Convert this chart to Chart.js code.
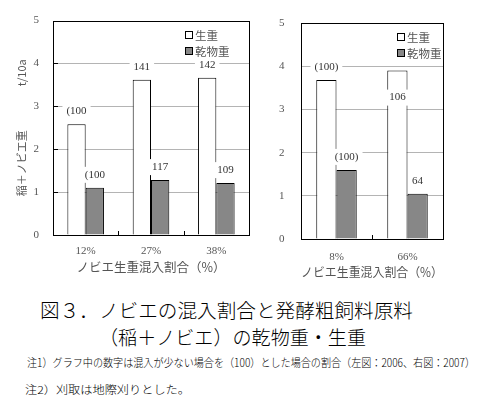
<!DOCTYPE html>
<html><head><meta charset="utf-8">
<script src="https://cdn.jsdelivr.net/npm/chart.js@4.4.1/dist/chart.umd.min.js"></script>
<style>
html,body{margin:0;padding:0;background:#fff;width:481px;height:397px;overflow:hidden;position:relative;}
#c1{position:absolute;left:0;top:0;}
#c2{position:absolute;left:250px;top:0;}
.cap{position:absolute;font-family:"Noto Sans CJK JP";color:#000;white-space:nowrap;line-height:1;font-weight:300;}
</style></head><body>
<canvas id="c1" width="260" height="285"></canvas>
<canvas id="c2" width="231" height="285"></canvas>
<div class="cap" id="t1" style="left:40px;top:300px;font-size:19.5px;">図３．ノビエの混入割合と発酵粗飼料原料</div>
<div class="cap" id="t2" style="left:99px;top:327px;font-size:19.5px;">（稲＋ノビエ）の乾物重・生重</div>
<div class="cap" id="n1" style="left:27px;top:357px;font-size:11.5px;">注1）グラフ中の数字は混入が少ない場合を（100）とした場合の割合（左図：2006、右図：2007）</div>
<div class="cap" id="n2" style="left:25px;top:384px;font-size:11px;">注2）刈取は地際刈りとした。</div>
<script>
// ---- data ----
const seriesNames = ['生重', '乾物重'];
const yTicks = [0, 1, 2, 3, 4, 5];
const leftCategories = ['12%', '27%', '38%'];
const leftFresh = [2.58, 3.62, 3.67];
const leftDry = [1.10, 1.28, 1.21];
const leftFreshLabels = ['(100', '141', '142'];
const leftDryLabels = ['(100', '117', '109'];
const rightCategories = ['8%', '66%'];
const rightFresh = [3.68, 3.90];
const rightDry = [1.60, 1.05];
const rightFreshLabels = ['(100)', '106'];
const rightDryLabels = ['(100)', '64'];
const xTitle = 'ノビエ生重混入割合（%）';
const yTitle = '稲＋ノビエ重　　　　t/10a';

// ---- styles ----
const FRESH_COLOR = '#ffffff';
const DRY_COLOR = '#878787';
const GRID_COLOR = '#b4b4b4';
const TICK_COLOR = '#555555';
const SERIF = '"Liberation Serif", "DejaVu Serif", serif';
const CJK = '"Noto Sans CJK JP", sans-serif';

const decorPlugin = {
  id: 'decor',
  afterDatasetsDraw(chart, args, opts) {
    const ctx = chart.ctx;
    const a = chart.chartArea;
    const ys = chart.scales.y, xs = chart.scales.x;
    ctx.save();
    ctx.strokeStyle = '#000';
    ctx.lineWidth = 1;
    if (opts.innerTicks) {
      yTicks.forEach(v => {
        if (v === ys.min || v === ys.max) return;
        const p = Math.round(ys.getPixelForValue(v)) + 0.5;
        ctx.beginPath(); ctx.moveTo(a.left, p); ctx.lineTo(a.left + 5, p); ctx.stroke();
      });
    }
    const n = chart.data.labels.length;
    for (let i = 0; i < n - 1; i++) {
      const p = Math.round((xs.getPixelForValue(i) + xs.getPixelForValue(i + 1)) / 2) + 0.5;
      ctx.beginPath(); ctx.moveTo(p, a.bottom); ctx.lineTo(p, a.bottom - 4); ctx.stroke();
    }
    ctx.strokeRect(Math.round(a.left) + 0.5, Math.round(a.top) + 0.5,
      Math.round(a.right) - Math.round(a.left), Math.round(a.bottom) - Math.round(a.top));
    ctx.font = '11px ' + SERIF;
    ctx.textAlign = 'center';
    ctx.textBaseline = 'middle';
    chart.data.datasets.forEach((ds, di) => {
      const meta = chart.getDatasetMeta(di);
      meta.data.forEach((el, j) => {
        const txt = opts.labels[di][j];
        const inside = opts.inside[di][j];
        const cx = el.x;
        const cy = inside ? el.y + 27 : el.y - 13;
        const w = ctx.measureText(txt).width;
        ctx.fillStyle = '#fff';
        ctx.fillRect(cx - w / 2 - 4, cy - 8, w + 8, 16);
        ctx.fillStyle = '#333';
        ctx.fillText(txt, cx, cy);
      });
    });
    ctx.font = '11.5px ' + CJK;
    ctx.textAlign = 'left';
    seriesNames.forEach((name, i) => {
      const bx = Math.round(a.right - opts.legendRight);
      const by = Math.round(a.top + 10 + i * 16);
      ctx.fillStyle = i === 0 ? FRESH_COLOR : DRY_COLOR;
      ctx.fillRect(bx, by, 8, 8);
      ctx.strokeStyle = '#000';
      ctx.strokeRect(bx + 0.5, by + 0.5, 7, 7);
      ctx.fillStyle = '#555';
      ctx.fillText(name, bx + 10, by + 4.5);
    });
    ctx.restore();
  }
};

function makeChart(id, cats, fresh, dry, labels, inside, cfg) {
  return new Chart(document.getElementById(id), {
    type: 'bar',
    data: {
      labels: cats,
      datasets: [
        { label: seriesNames[0], data: fresh, backgroundColor: FRESH_COLOR, borderColor: '#000', borderWidth: 1 },
        { label: seriesNames[1], data: dry, backgroundColor: DRY_COLOR, borderColor: '#000', borderWidth: 1 }
      ]
    },
    options: {
      responsive: false,
      animation: false,
      devicePixelRatio: 1,
      layout: { padding: { top: cfg.top, right: cfg.right, left: 0, bottom: 0 } },
      datasets: { bar: { categoryPercentage: cfg.catPct, barPercentage: 1.0 } },
      plugins: {
        legend: { display: false },
        tooltip: { enabled: false },
        decor: { labels: labels, inside: inside, innerTicks: cfg.innerTicks, legendRight: cfg.legendRight }
      },
      scales: {
        x: {
          grid: { display: false, drawTicks: false },
          border: { display: false },
          ticks: { color: TICK_COLOR, font: { family: SERIF, size: 11 }, padding: cfg.xPad, maxRotation: 0 },
          title: { display: true, text: xTitle, color: '#555', font: { family: CJK, size: 12.5 }, padding: { top: 0, bottom: cfg.xTitlePad } },
          afterFit: s => { s.height = cfg.xHeight; }
        },
        y: {
          min: 0, max: 5,
          afterBuildTicks: s => { s.ticks = yTicks.map(v => ({ value: v })); },
          grid: {
            drawTicks: false,
            color: c => (c.tick && (c.tick.value === 0 || c.tick.value === 5)) ? 'rgba(0,0,0,0)' : GRID_COLOR,
            lineWidth: 1
          },
          border: { display: false },
          ticks: { color: TICK_COLOR, font: { family: SERIF, size: 11 }, padding: cfg.yPad },
          title: { display: cfg.showYTitle, text: yTitle, color: '#555', font: { family: CJK, size: 11 }, padding: { top: 15, bottom: 0 } },
          afterFit: s => { s.width = cfg.yWidth; }
        }
      }
    },
    plugins: [decorPlugin]
  });
}

makeChart('c1', leftCategories, leftFresh, leftDry,
  [leftFreshLabels, leftDryLabels], [[false, false, false], [false, false, false]],
  { top: 12, right: 11, catPct: 0.56, xPad: 9.4, xTitlePad: 10.5, xHeight: 50, yPad: 14, yWidth: 53, showYTitle: true, innerTicks: true, legendRight: 64 });

makeChart('c2', rightCategories, rightFresh, rightDry,
  [rightFreshLabels, rightDryLabels], [[false, true], [false, false]],
  { top: 10, right: 38, catPct: 0.57, xPad: 11.4, xTitlePad: 5.5, xHeight: 46, yPad: 16.5, yWidth: 51, showYTitle: false, innerTicks: false, legendRight: 46 });

function fitWidth(id, target) {
  const el = document.getElementById(id);
  const w = el.getBoundingClientRect().width;
  el.style.transformOrigin = 'left top';
  el.style.transform = 'scaleX(' + (target / w) + ')';
}
fitWidth('n1', 448);
fitWidth('n2', 165);
fitWidth('t1', 373);
fitWidth('t2', 267);
</script>
</body></html>
